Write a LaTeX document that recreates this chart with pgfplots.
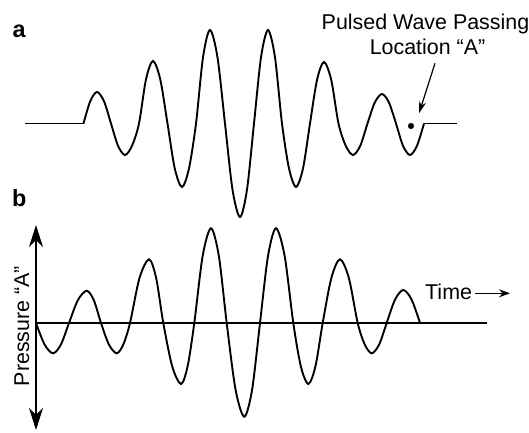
\documentclass[border=0pt]{standalone}
\usepackage{pgfplots}
\pgfplotsset{compat=1.18}
\usetikzlibrary{arrows.meta}
\usepackage{fontspec}
\setmainfont{Liberation Sans}
\newcommand{\lbl}{\fontsize{21.5}{25}\selectfont}

\begin{document}
\begin{tikzpicture}[font=\lbl]
\path[use as bounding box] (0,0) rectangle (529bp,433bp);
% ---------------- panel a ----------------
\begin{axis}[
  at={(25bp,215.5bp)}, anchor=south west,
  x=1bp, y=1bp, xmin=25, xmax=457, ymin=-94, ymax=94,
  axis lines=none, clip=false,
]
\addplot[black, line width=1.9bp] coordinates {(25,0) (83.5,0)};
\addplot[black, line width=1.9bp, smooth] coordinates {
(83.5,0) (90.25,22.3) (97,31.5) (104,22.3) (111,0)
(118,-22.3) (125,-31.5) (132,-22.3) (139,0)
(146,44.2) (153,62.5) (160.25,44.2) (167.5,0)
(174.75,-44.9) (182,-63.5) (189,-44.9) (196,0)
(203,66.1) (210,93.5) (217.5,66.1) (225,0)
(232.5,-66.1) (240,-93.5) (247,-66.1) (254,0)
(261,66.1) (268,93.5) (275,66.1) (282,0)
(289,-44.9) (296,-63.5) (303,-44.9) (310,0)
(317,43.5) (324,61.5) (331.25,43.5) (338.5,0)
(345.75,-22.3) (353,-31.5) (360.25,-22.3) (367.5,0)
(374.75,20.9) (382,29.5) (389,20.9) (396,0)
(403,-22.3) (410,-31.5) (417,-22.3) (424,0)
};
\addplot[black, line width=1.9bp] coordinates {(424,0) (457,0)};
\addplot[only marks, mark=*, mark size=2.8bp, black] coordinates {(411,-2.5)};
\draw[line width=1.2bp, -{Stealth[length=12bp,width=7bp]}] (axis cs:435,60.2) -- (axis cs:419,10.2);
\node[anchor=base, font=\lbl] at (axis cs:425.5,94) {Pulsed Wave Passing};
\node[anchor=base, font=\lbl] at (axis cs:427.5,68.5) {Location “A”};
\node[anchor=base west, inner sep=0pt, font=\fontsize{23.5}{27}\selectfont\bfseries] at (axis cs:12.5,85.5) {a};
\node[anchor=base west, inner sep=0pt, font=\fontsize{23.5}{27}\selectfont\bfseries] at (axis cs:12,-83.2) {b};
\end{axis}
% ---------------- panel b ----------------
\begin{axis}[
  at={(36bp,3bp)}, anchor=south west,
  x=1bp, y=1bp, xmin=0, xmax=451, ymin=-107, ymax=98,
  axis lines=middle, xtick=\empty, ytick=\empty,
  axis line style={line width=1.9bp, black},
  x axis line style={-},
  y axis line style={{Stealth[length=22bp,width=14bp,inset=7bp]}-{Stealth[length=22bp,width=14bp,inset=7bp]}},
  clip=false,
]
\addplot[black, line width=1.9bp, smooth] coordinates {
(0,0) (8.5,-21.4) (17,-30.3) (25,-21.4) (33,0)
(41.85,22.8) (50.7,32.3) (57.85,22.8) (65,0)
(72.85,-21.4) (80.7,-30.3) (87.35,-21.4) (94,0)
(103.5,45) (113,63.7) (120.15,45) (127.3,0)
(136.15,-43.1) (145,-61) (151.65,-43.1) (158.3,0)
(166.65,67) (175,94.7) (182.85,67) (190.7,0)
(199.5,-66.3) (208.3,-93.7) (216.15,-66.3) (224,0)
(232,67) (240,94.7) (248.65,67) (257.3,0)
(264.8,-43.1) (272.3,-61) (279.5,-43.1) (286.7,0)
(295.35,45) (304,63.7) (312.85,45) (321.7,0)
(328.7,-21.4) (335.7,-30.3) (343.2,-21.4) (350.7,0)
(359,23.3) (367.3,33) (375.65,23.3) (384,0)
};
\node[anchor=base west, inner sep=0pt, font=\lbl] at (axis cs:389,24) {Time};
\draw[line width=1.2bp, -{Stealth[length=11bp,width=8bp]}] (axis cs:439,29.7) -- (axis cs:474,29.7);
\node[anchor=base, rotate=90, inner sep=0pt, font=\lbl] at (axis cs:-7,-3) {Pressure “A”};
\end{axis}
\end{tikzpicture}
\end{document}
